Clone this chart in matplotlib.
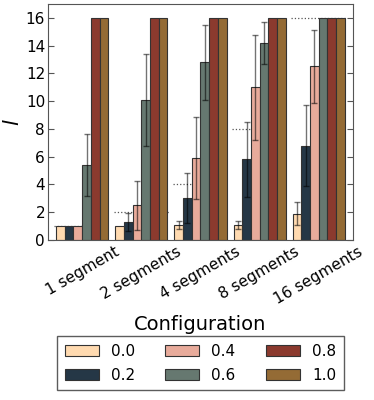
import numpy as np
import matplotlib.pyplot as plt

configs = ["1 segment", "2 segments", "4 segments", "8 segments", "16 segments"]
levels = ["0.0", "0.2", "0.4", "0.6", "0.8", "1.0"]
optimum = [1, 2, 4, 8, 16]

# mean values per level (rows) over configurations (columns)
means = [
    [1.0, 1.0, 1.1, 1.1, 1.9],
    [1.0, 1.3, 3.0, 5.8, 6.8],
    [1.0, 2.5, 5.9, 11.0, 12.5],
    [5.4, 10.1, 12.8, 14.2, 16.0],
    [16.0, 16.0, 16.0, 16.0, 16.0],
    [16.0, 16.0, 16.0, 16.0, 16.0],
]
errs = [
    [0.0, 0.0, 0.3, 0.3, 0.85],
    [0.0, 0.65, 1.8, 2.7, 2.9],
    [0.0, 1.75, 2.95, 3.8, 2.65],
    [2.2, 3.3, 2.7, 1.5, 0.0],
    [0.0, 0.0, 0.0, 0.0, 0.0],
    [0.0, 0.0, 0.0, 0.0, 0.0],
]

mycolor = ["#FFDAB0", "#253746", "#E8AB9B", "#667870", "#8B3A2E", "#946B35"]

fig = plt.figure(figsize=(3.74, 4.0), dpi=100)
ax = fig.add_axes([0.128, 0.40, 0.816, 0.59])

x = np.arange(len(configs))
wid = 0.147
for i, lev in enumerate(levels):
    pos = x - 3 * wid + i * wid
    ax.bar(pos, means[i], width=wid, align="edge", color=mycolor[i],
           edgecolor="#333333", lw=0.8, label=lev, zorder=2)
    e = np.array(errs[i])
    m = e > 0
    ax.errorbar(pos[m] + wid / 2, np.array(means[i])[m], yerr=e[m], fmt="none",
                ecolor="black", alpha=0.55, elinewidth=1, capsize=2,
                capthick=1, zorder=3)

# optimum lines
for xi, opt in zip(x, optimum):
    ax.plot([xi - 0.47, xi + 0.47], [opt, opt], color="#555555", ls=":",
            lw=0.9, zorder=1)

ax.set_xlim(-0.58, 4.58)
ax.set_ylim(0, 17)
ax.set_yticks(range(0, 17, 2))
ax.set_xticks(x)
ax.set_xticklabels(configs, rotation=30, ha="center", fontsize=11)
ax.tick_params(axis="x", length=0, pad=3)
ax.tick_params(axis="y", direction="in", right=True, labelsize=11,
               length=4, color="#555555", pad=2)
for sp in ax.spines.values():
    sp.set_color("#555555")
ax.set_ylabel("$l$", fontsize=15, labelpad=2)
ax.set_xlabel("Configuration", fontsize=14, labelpad=6)

fig.legend(loc="lower center", bbox_to_anchor=(0.536, 0.005), ncol=3,
           fontsize=11, fancybox=False, edgecolor="#333333",
           handlelength=2.2, columnspacing=2.0, borderpad=0.5,
           labelspacing=0.6)

plt.savefig("out.png", dpi=100)
plt.close()
